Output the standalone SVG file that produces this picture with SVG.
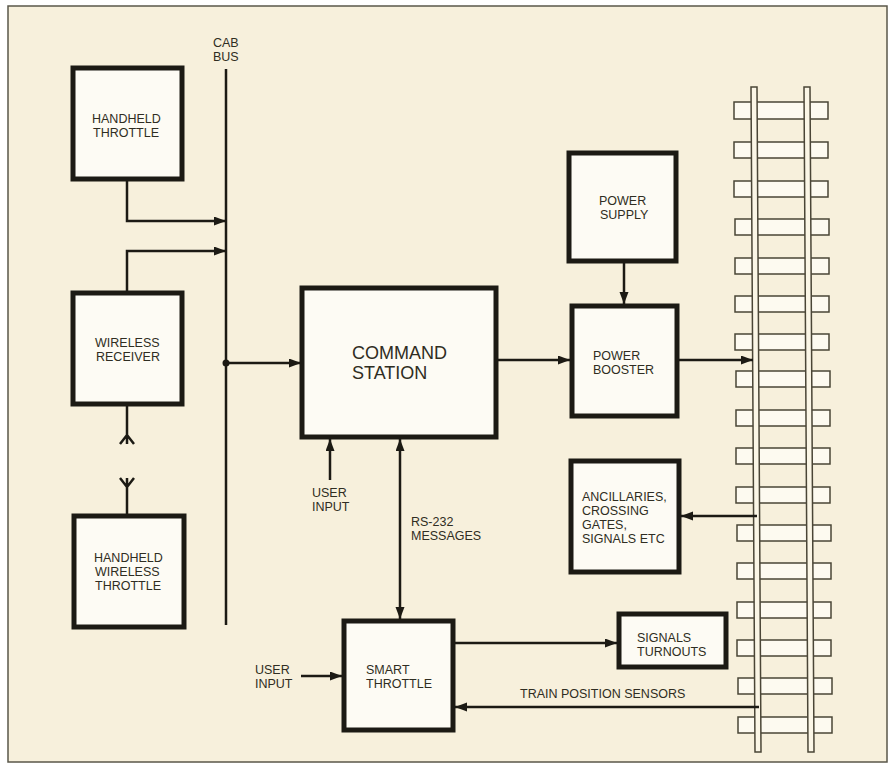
<svg xmlns="http://www.w3.org/2000/svg" width="896" height="771" viewBox="0 0 896 771">
<defs>
<marker id="ah" markerUnits="userSpaceOnUse" markerWidth="13" markerHeight="10" refX="12" refY="4.5" orient="auto-start-reverse"><path d="M0,0 L12,4.5 L0,9 z" fill="#1c1a14"/></marker>
<style>
.box{fill:#fdfbf4;stroke:#1c1a14;stroke-width:5}
.t{font-family:"Liberation Sans",Arial,sans-serif;font-size:12.5px;fill:#2f2d22}
.tb{font-family:"Liberation Sans",Arial,sans-serif;font-size:18px;fill:#2f2d22}
.c{fill:none;stroke:#1c1a14;stroke-width:2.5}
.ca{fill:none;stroke:#1c1a14;stroke-width:2.5;marker-end:url(#ah)}
.tie{fill:#fdfaf0;stroke:#4a4536;stroke-width:1.5}
.rail{fill:#fbf6e6;stroke:#4a4536;stroke-width:1.5}
</style>
</defs>
<rect x="0" y="0" width="896" height="771" fill="#ffffff"/>
<rect x="8" y="6" width="879" height="756" fill="#f7f0dc" stroke="#5a574a" stroke-width="1.5"/>

<g id="track">
<rect class="tie" x="734" y="102" width="94" height="17"/>
<rect class="tie" x="734" y="142" width="94" height="16"/>
<rect class="tie" x="734" y="181" width="94" height="16"/>
<rect class="tie" x="735" y="219" width="94" height="16"/>
<rect class="tie" x="735" y="258" width="94" height="16"/>
<rect class="tie" x="735" y="296" width="94" height="16"/>
<rect class="tie" x="735" y="334" width="94" height="16"/>
<rect class="tie" x="736" y="371" width="94" height="16"/>
<rect class="tie" x="736" y="410" width="94" height="16"/>
<rect class="tie" x="736" y="448" width="94" height="16"/>
<rect class="tie" x="736" y="487" width="94" height="16"/>
<rect class="tie" x="737" y="525" width="94" height="16"/>
<rect class="tie" x="737" y="563" width="94" height="16"/>
<rect class="tie" x="737" y="602" width="94" height="16"/>
<rect class="tie" x="737" y="640" width="94" height="16"/>
<rect class="tie" x="738" y="678" width="94" height="16"/>
<rect class="tie" x="738" y="717" width="94" height="16"/>
<polygon class="rail" points="751,87 757,87 761,752 755,752"/>
<polygon class="rail" points="804,87 810,87 814,752 808,752"/>
</g>

<g id="connectors">
<line class="c" x1="226" y1="69" x2="226" y2="625"/>
<path class="ca" d="M127,180 V221 H226"/>
<path class="ca" d="M127,292 V251 H226"/>
<circle cx="226" cy="363" r="3.5" fill="#1c1a14"/>
<path class="ca" d="M226,363 H301"/>
<path class="c" d="M127,405 V444 M120,444 L127,435 L134,444"/>
<path class="c" d="M127,515 V478 M120,478 L127,487 L134,478"/>
<path class="ca" d="M497,360 H570"/>
<path class="ca" d="M624,262 V304"/>
<path class="ca" d="M678,360 H753"/>
<path class="ca" d="M757,516 H681"/>
<path class="ca" d="M330,480 V439"/>
<path class="ca" d="M400,475 V439"/>
<path class="ca" d="M400,475 V619"/>
<path class="ca" d="M301,676 H342"/>
<path class="ca" d="M454,643 H617"/>
<path class="ca" d="M759,707 H455"/>
</g>

<g id="cab-bus-label">
<text class="t" x="213" y="47">CAB</text>
<text class="t" x="213" y="61">BUS</text>
</g>

<g id="handheld-throttle">
<rect class="box" x="73" y="68" width="109" height="111"/>
<text class="t" x="92" y="123">HANDHELD</text>
<text class="t" x="93" y="137">THROTTLE</text>
</g>

<g id="wireless-receiver">
<rect class="box" x="73" y="293" width="109" height="111"/>
<text class="t" x="95" y="347">WIRELESS</text>
<text class="t" x="96" y="361">RECEIVER</text>
</g>

<g id="handheld-wireless-throttle">
<rect class="box" x="74" y="516" width="110" height="111"/>
<text class="t" x="94" y="562">HANDHELD</text>
<text class="t" x="95" y="576">WIRELESS</text>
<text class="t" x="95" y="590">THROTTLE</text>
</g>

<g id="command-station">
<rect class="box" x="302" y="288" width="194" height="149"/>
<text class="tb" x="352" y="359">COMMAND</text>
<text class="tb" x="352" y="379">STATION</text>
</g>

<g id="user-input-1">
<text class="t" x="312" y="497">USER</text>
<text class="t" x="312" y="511">INPUT</text>
</g>

<g id="rs232-label">
<text class="t" x="411" y="526">RS-232</text>
<text class="t" x="411" y="540">MESSAGES</text>
</g>

<g id="power-supply">
<rect class="box" x="569" y="153" width="107" height="108"/>
<text class="t" x="599" y="205">POWER</text>
<text class="t" x="600" y="219">SUPPLY</text>
</g>

<g id="power-booster">
<rect class="box" x="572" y="306" width="105" height="110"/>
<text class="t" x="593" y="360">POWER</text>
<text class="t" x="593" y="374">BOOSTER</text>
</g>

<g id="ancillaries">
<rect class="box" x="571" y="461" width="108" height="111"/>
<text class="t" x="582" y="501">ANCILLARIES,</text>
<text class="t" x="582" y="515">CROSSING</text>
<text class="t" x="582" y="529">GATES,</text>
<text class="t" x="582" y="543">SIGNALS ETC</text>
</g>

<g id="signals-turnouts">
<rect class="box" x="619" y="614" width="107" height="53"/>
<text class="t" x="637" y="642">SIGNALS</text>
<text class="t" x="637" y="656">TURNOUTS</text>
</g>

<g id="smart-throttle">
<rect class="box" x="344" y="621" width="109" height="109"/>
<text class="t" x="366" y="674">SMART</text>
<text class="t" x="366" y="688">THROTTLE</text>
</g>

<g id="user-input-2">
<text class="t" x="255" y="674">USER</text>
<text class="t" x="255" y="688">INPUT</text>
</g>

<g id="train-position-label">
<text class="t" x="520" y="698">TRAIN POSITION SENSORS</text>
</g>
</svg>
